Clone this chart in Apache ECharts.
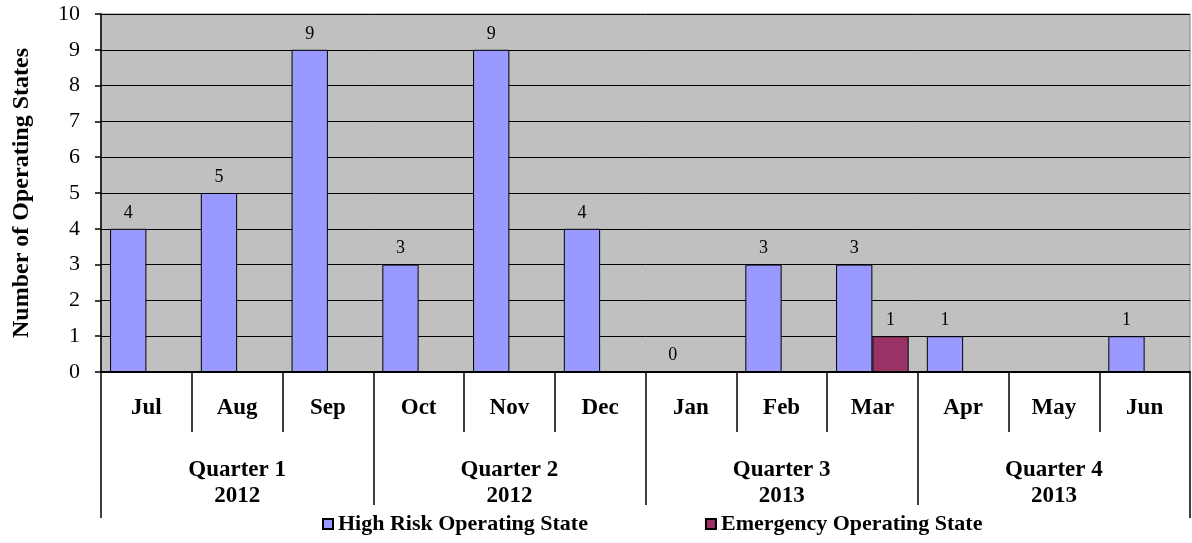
<!DOCTYPE html>
<html>
<head>
<meta charset="utf-8">
<script src="https://cdn.jsdelivr.net/npm/echarts@6/dist/echarts.min.js"></script>
<style>
  html, body { margin: 0; padding: 0; background: #fff; }
  #chart { width: 1192px; height: 543px; }
</style>
</head>
<body>
<div id="chart"></div>
<script>
const months = ['Jul', 'Aug', 'Sep', 'Oct', 'Nov', 'Dec', 'Jan', 'Feb', 'Mar', 'Apr', 'May', 'Jun'];
const quarters = ['Quarter 1\n2012', 'Quarter 2\n2012', 'Quarter 3\n2013', 'Quarter 4\n2013'];
const highRisk = [4, 5, 9, 3, 9, 4, 0, 3, 3, 1, null, 1];
const emergency = [null, null, null, null, null, null, null, null, 1, null, null, null];
const yTicks = [0, 10, 1]; // min, max, interval

const serif = "'Liberation Serif', 'Times New Roman', serif";
const chart = echarts.init(document.getElementById('chart'));

const labelStyle = {
  show: true,
  position: 'top',
  distance: 7,
  color: '#000',
  fontFamily: serif,
  fontSize: 18
};

chart.setOption({
  animation: false,
  textStyle: { fontFamily: serif },
  grid: {
    left: 101, right: 2, top: 14, bottom: 171,
    show: true,
    backgroundColor: '#c0c0c0',
    borderColor: '#808080',
    borderWidth: 1
  },
  legend: {
    left: 317,
    top: 508,
    itemWidth: 10,
    itemHeight: 10,
    itemGap: 117,
    icon: 'rect',
    textStyle: { fontFamily: serif, fontSize: 22, fontWeight: 'bold', color: '#000' },
    data: ['High Risk Operating State', 'Emergency Operating State']
  },
  xAxis: [
    {
      type: 'category',
      data: months,
      position: 'bottom',
      axisLine: { show: true, lineStyle: { color: '#000', width: 2 } },
      axisTick: { show: true, length: 60, interval: 0, lineStyle: { color: '#000', width: 1.5 } },
      axisLabel: {
        interval: 0, margin: 25, color: '#000',
        fontFamily: serif, fontSize: 23, fontWeight: 'bold'
      },
      splitLine: { show: false }
    },
    {
      type: 'category',
      data: quarters,
      position: 'bottom',
      axisLine: { show: false },
      axisTick: { show: true, length: 133, interval: 0, lineStyle: { color: '#000', width: 1.5 } },
      axisLabel: {
        interval: 0, margin: 85, color: '#000', lineHeight: 26,
        fontFamily: serif, fontSize: 23, fontWeight: 'bold'
      },
      splitLine: { show: false }
    },
    {
      type: 'category',
      data: [''],
      position: 'bottom',
      axisLine: { show: false },
      axisTick: { show: true, length: 146, lineStyle: { color: '#000', width: 1.5 } },
      axisLabel: { show: false },
      splitLine: { show: false }
    }
  ],
  yAxis: {
    type: 'value',
    min: yTicks[0],
    max: yTicks[1],
    interval: yTicks[2],
    name: 'Number of Operating States',
    nameLocation: 'middle',
    nameGap: 67,
    nameTextStyle: { fontFamily: serif, fontSize: 24, fontWeight: 'bold', color: '#000' },
    axisLine: { show: true, lineStyle: { color: '#000', width: 1.5 } },
    axisTick: { show: true, length: 6, lineStyle: { color: '#000', width: 1.5 } },
    axisLabel: { margin: 21, color: '#000', fontFamily: serif, fontSize: 22 },
    splitLine: { lineStyle: { color: '#000', width: 1 } }
  },
  series: [
    {
      name: 'High Risk Operating State',
      type: 'bar',
      xAxisIndex: 0,
      data: highRisk,
      barGap: '0%',
      barCategoryGap: '20%',
      itemStyle: { color: '#9999ff', borderColor: '#000', borderWidth: 1 },
      label: labelStyle
    },
    {
      name: 'Emergency Operating State',
      type: 'bar',
      xAxisIndex: 0,
      data: emergency,
      barGap: '0%',
      barCategoryGap: '20%',
      itemStyle: { color: '#993366', borderColor: '#000', borderWidth: 1 },
      label: labelStyle
    }
  ]
});
</script>
</body>
</html>
